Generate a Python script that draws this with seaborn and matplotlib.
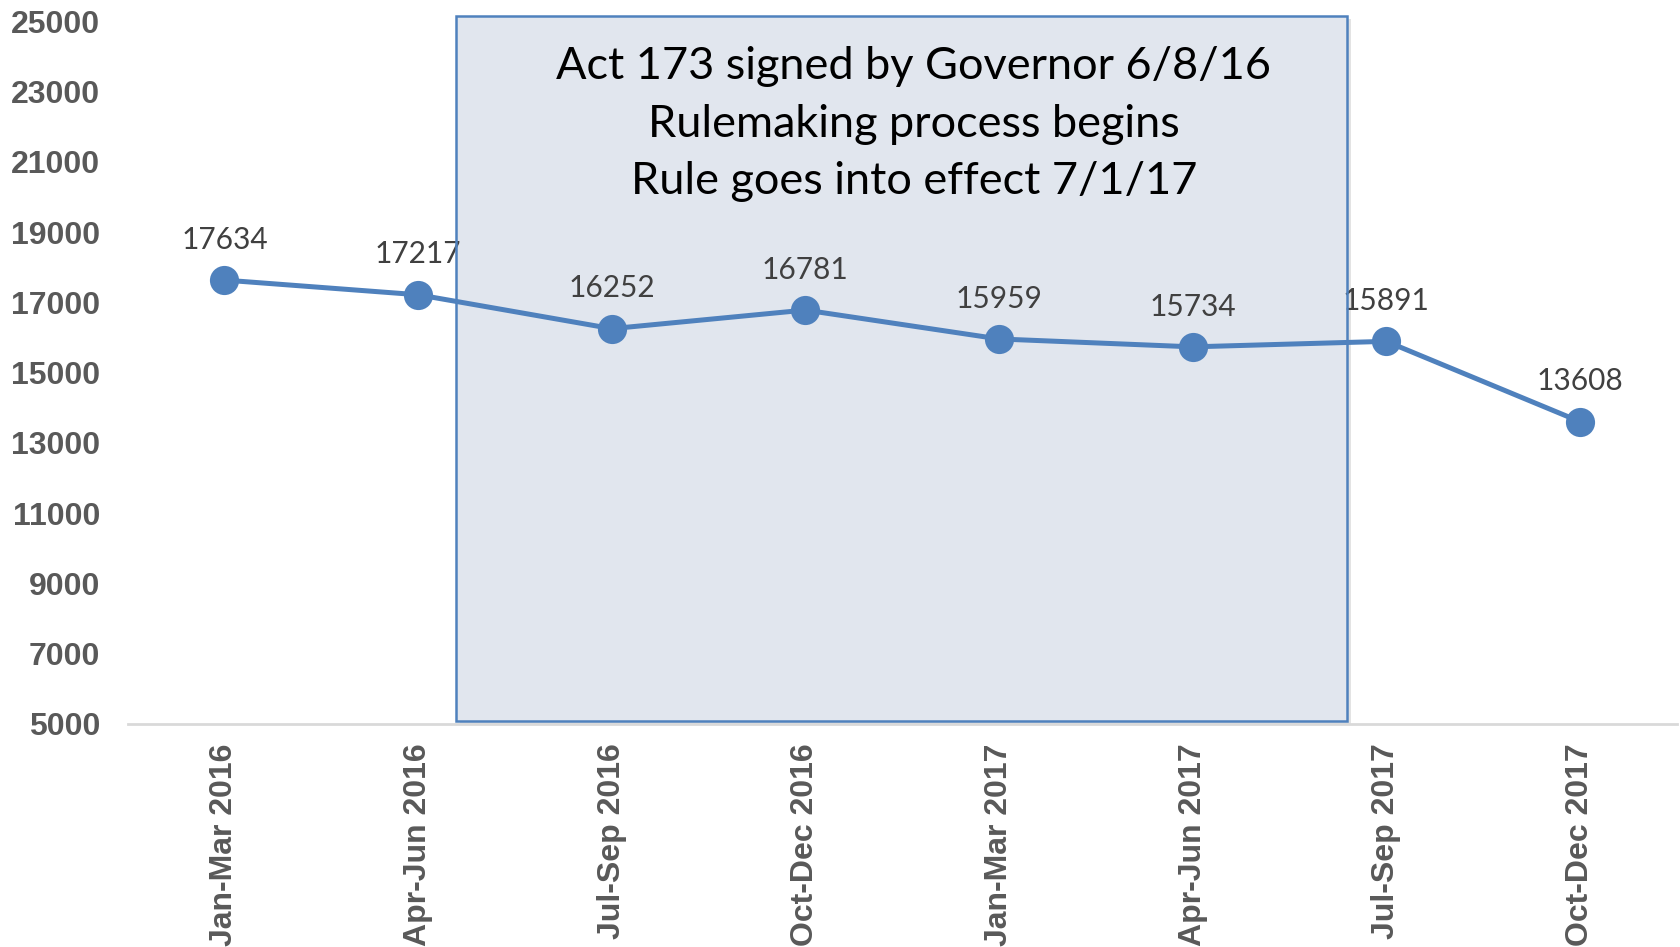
import matplotlib.pyplot as plt
import seaborn as sns
from matplotlib.patches import Rectangle

# Quarterly values
quarters = ['Jan-Mar 2016', 'Apr-Jun 2016', 'Jul-Sep 2016', 'Oct-Dec 2016',
            'Jan-Mar 2017', 'Apr-Jun 2017', 'Jul-Sep 2017', 'Oct-Dec 2017']
counts = [17634, 17217, 16252, 16781, 15959, 15734, 15891, 13608]
y_ticks = [5000, 7000, 9000, 11000, 13000, 15000, 17000, 19000, 21000, 23000, 25000]
note_lines = ['Act 173 signed by Governor 6/8/16',
              'Rulemaking process begins',
              'Rule goes into effect 7/1/17']

line_color = '#4F81BD'
tick_color = '#595959'

sns.set_style('white')
plt.rcParams['font.family'] = ['Liberation Sans', 'DejaVu Sans']

fig = plt.figure(figsize=(16.8, 9.47), dpi=100)
ax = fig.add_axes([0.076, 0.2355, 0.922, 0.742])

sns.lineplot(x=quarters, y=counts, sort=False, ax=ax, color=line_color,
             linewidth=3.6, marker='o', markersize=21, markeredgewidth=0, zorder=3)

ax.set_xlim(-0.5, 7.5)
ax.set_ylim(5000, 25000)
ax.set_yticks(y_ticks)
ax.set_yticklabels([str(v) for v in y_ticks], fontsize=23, fontweight='bold', color=tick_color)
ax.set_xticks(range(len(quarters)))
ax.set_xticklabels(quarters, rotation=90, fontsize=23, fontweight='bold', color=tick_color)
ax.tick_params(axis='y', length=0, pad=20)
ax.tick_params(axis='x', length=0, pad=14)
ax.set_xlabel('')
ax.set_ylabel('')

for s in ['top', 'right', 'left']:
    ax.spines[s].set_visible(False)
ax.spines['bottom'].set_color('#D9D9D9')
ax.spines['bottom'].set_linewidth(2)

# data labels
for i, v in enumerate(counts):
    ax.annotate(str(v), (i, v), xytext=(0, 29), textcoords='offset points',
                ha='center', va='center', fontsize=21.5, color='#404040',
                family=['Lato', 'DejaVu Sans'], zorder=2)

# shaded annotation box
x0, x1 = 1.196, 5.80
y0, y1 = 5085, 25150
ax.add_patch(Rectangle((x0 + 0.02, y0 - 90), x1 - x0, y1 - y0, facecolor='#B0B0B0',
                       edgecolor='none', alpha=0.35, zorder=1, clip_on=False))
ax.add_patch(Rectangle((x0, y0), x1 - x0, y1 - y0, facecolor='#E1E6EE',
                       edgecolor='none', zorder=1.5, clip_on=False))
ax.add_patch(Rectangle((x0, y0), x1 - x0, y1 - y0, facecolor='none',
                       edgecolor=line_color, linewidth=1.8, zorder=4, clip_on=False))

for k, t in enumerate(note_lines):
    ax.text(3.56, 23700 - k * 1630, t, ha='center', va='center', fontsize=32.5,
            color='black', family=['Lato', 'DejaVu Sans'], zorder=5)

fig.savefig('out.png', dpi=100)
plt.close()
